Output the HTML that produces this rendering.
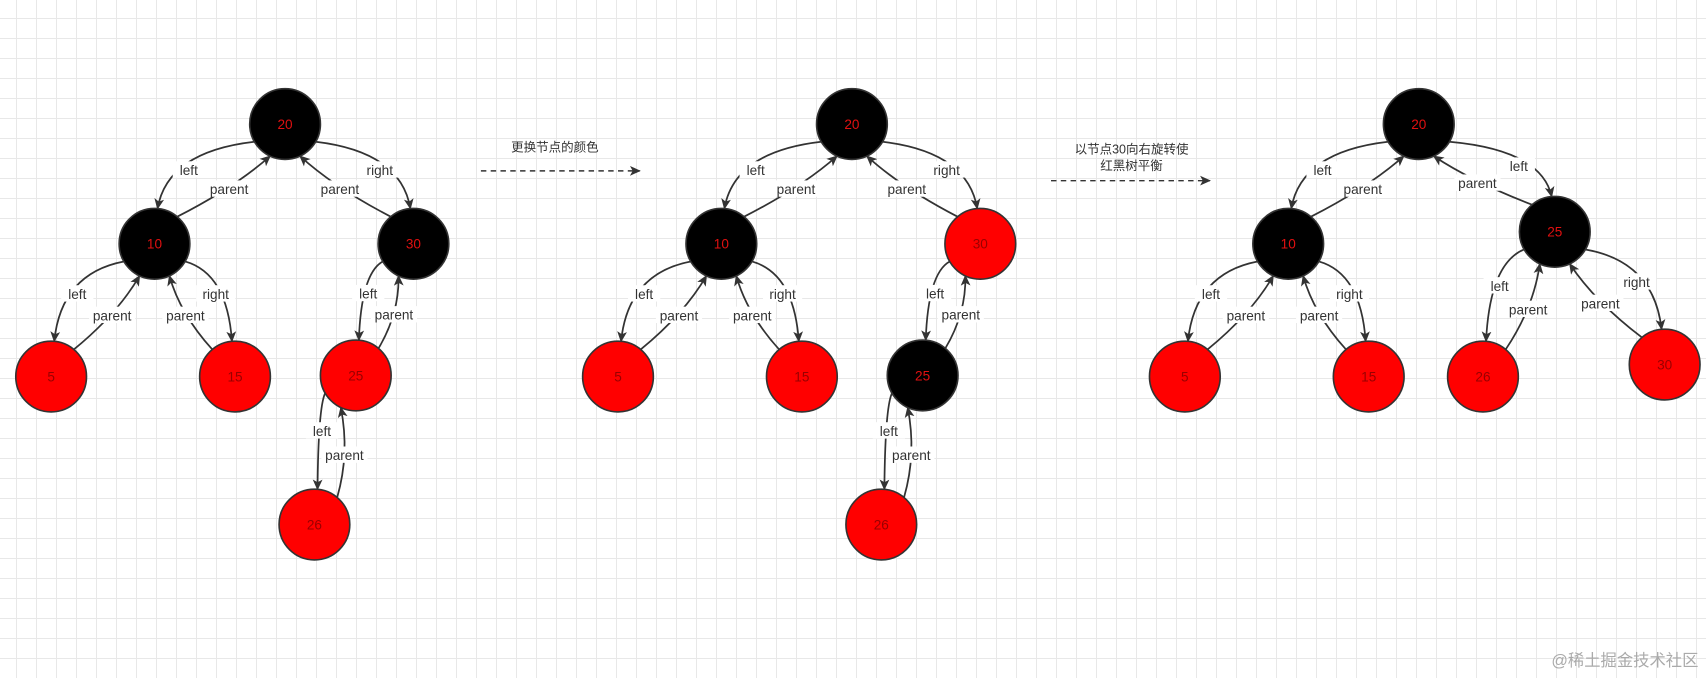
<!DOCTYPE html>
<html><head><meta charset="utf-8"><style>
html,body{margin:0;padding:0;width:1706px;height:678px;overflow:hidden;background:#fff;}
body{background-image:linear-gradient(#e8e8e8 1px,transparent 1px),linear-gradient(90deg,#e8e8e8 1px,transparent 1px);background-size:20px 20px;background-position:-4px -2px;}
svg{position:absolute;left:0;top:0;}
text{font-family:"Liberation Sans","Noto Sans CJK SC",sans-serif;}
</style></head><body>
<svg id="s" width="1706" height="678" viewBox="0 0 1568 623" preserveAspectRatio="none">
<defs><marker id="ah" markerWidth="12" markerHeight="12" refX="9" refY="5" orient="auto" markerUnits="userSpaceOnUse"><path d="M0,0.5 L10,5 L0,9.5 L2.5,5 Z" fill="#333"/></marker></defs>
<g id="edges"></g><g id="nodes"></g>
<line x1="442" y1="157" x2="588" y2="157" stroke="#333" stroke-width="1.3" stroke-dasharray="5,4" marker-end="url(#ah)"/>
<text x="510" y="139" font-size="11.5" text-anchor="middle" fill="#333">更换节点的颜色</text>
<line x1="966" y1="166" x2="1112" y2="166" stroke="#333" stroke-width="1.3" stroke-dasharray="5,4" marker-end="url(#ah)"/>
<text x="1040" y="141" font-size="11.5" text-anchor="middle" fill="#333">以节点30向右旋转使</text>
<text x="1040" y="156" font-size="11.5" text-anchor="middle" fill="#333">红黑树平衡</text>
<text x="1561" y="612" font-size="15" text-anchor="end" fill="#aaa">@稀土掘金技术社区</text>
</svg>
<script>
var R=32.5,NS="http://www.w3.org/2000/svg";
function el(t,a,p,txt){var e=document.createElementNS(NS,t);for(var k in a)e.setAttribute(k,a[k]);if(txt)e.textContent=txt;p.appendChild(e);return e;}
var E=document.getElementById('edges'),L=document.createElementNS(NS,'g'),N=document.getElementById('nodes');
E.parentNode.insertBefore(L,N);
var trees=[
 {n:{20:[262,114,'b'],10:[142,224,'b'],30:[380,224,'b'],5:[47,346,'r'],15:[216,346,'r'],25:[327,345,'r'],26:[289,482,'r']},
  e:[[20,10,'left'],[20,30,'right'],[10,5,'left'],[10,15,'right'],[30,25,'left'],[25,26,'left']]},
 {n:{20:[783,114,'b'],10:[663,224,'b'],30:[901,224,'r'],5:[568,346,'r'],15:[737,346,'r'],25:[848,345,'b'],26:[810,482,'r']},
  e:[[20,10,'left'],[20,30,'right'],[10,5,'left'],[10,15,'right'],[30,25,'left'],[25,26,'left']]},
 {n:{20:[1304,114,'b'],10:[1184,224,'b'],25:[1429,213,'b'],5:[1089,346,'r'],15:[1258,346,'r'],26:[1363,346,'r'],30:[1530,335,'r']},
  e:[[20,10,'left'],[20,25,'left'],[10,5,'left'],[10,15,'right'],[25,26,'left'],[25,30,'right']]}
];
function lbl(x,y,t){var w=t.length*6.4+4;el('rect',{x:x-w/2,y:y-8,width:w,height:15,fill:'#fff'},L);el('text',{x:x,y:y+4.5,'font-size':12.5,'text-anchor':'middle',fill:'#333'},L,t);}
function on(c,deg){var a=deg*Math.PI/180;return [c[0]+R*Math.cos(a),c[1]+R*Math.sin(a)];}
function mid(s,c,e){return [(s[0]+2*c[0]+e[0])/4,(s[1]+2*c[1]+e[1])/4];}
function path(s,c,e){el('path',{d:'M'+s+' Q'+c+' '+e,fill:'none',stroke:'#333','stroke-width':1.6,'marker-end':'url(#ah)'},E);}
trees.forEach(function(T){
 T.e.forEach(function(ed){
  var P=T.n[ed[0]],C=T.n[ed[1]];var left=C[0]<P[0];var m=left?1:-1;
  function A(d){return left?d:180-d;}
  var s1=on(P,A(150)),e1=on(C,A(275));
  var c1=[e1[0]+0.1*(s1[0]-e1[0]),s1[1]+0.15*(e1[1]-s1[1])];
  path(s1,c1,e1);
  var s2=on(C,A(-50)),e2=on(P,A(115));
  var c2=[(s2[0]+e2[0])/2+10*m,(s2[1]+e2[1])/2+1];
  path(s2,c2,e2);
  var m1=mid(s1,c1,e1),m2=mid(s2,c2,e2);
  lbl(m1[0]+2*m,m1[1]+6,ed[2]);lbl(m2[0],m2[1]+2,'parent');
 });
 for(var k in T.n){var v=T.n[k];var red=v[2]=='r';
  el('circle',{cx:v[0],cy:v[1],r:R,fill:red?'#ff0000':'#000',stroke:'#333','stroke-width':1.5},N);
  el('text',{x:v[0],y:v[1]+4.5,'font-size':12.5,'text-anchor':'middle',fill:red?'#900':'#e01010'},N,k);}
});
</script>
</body></html>
